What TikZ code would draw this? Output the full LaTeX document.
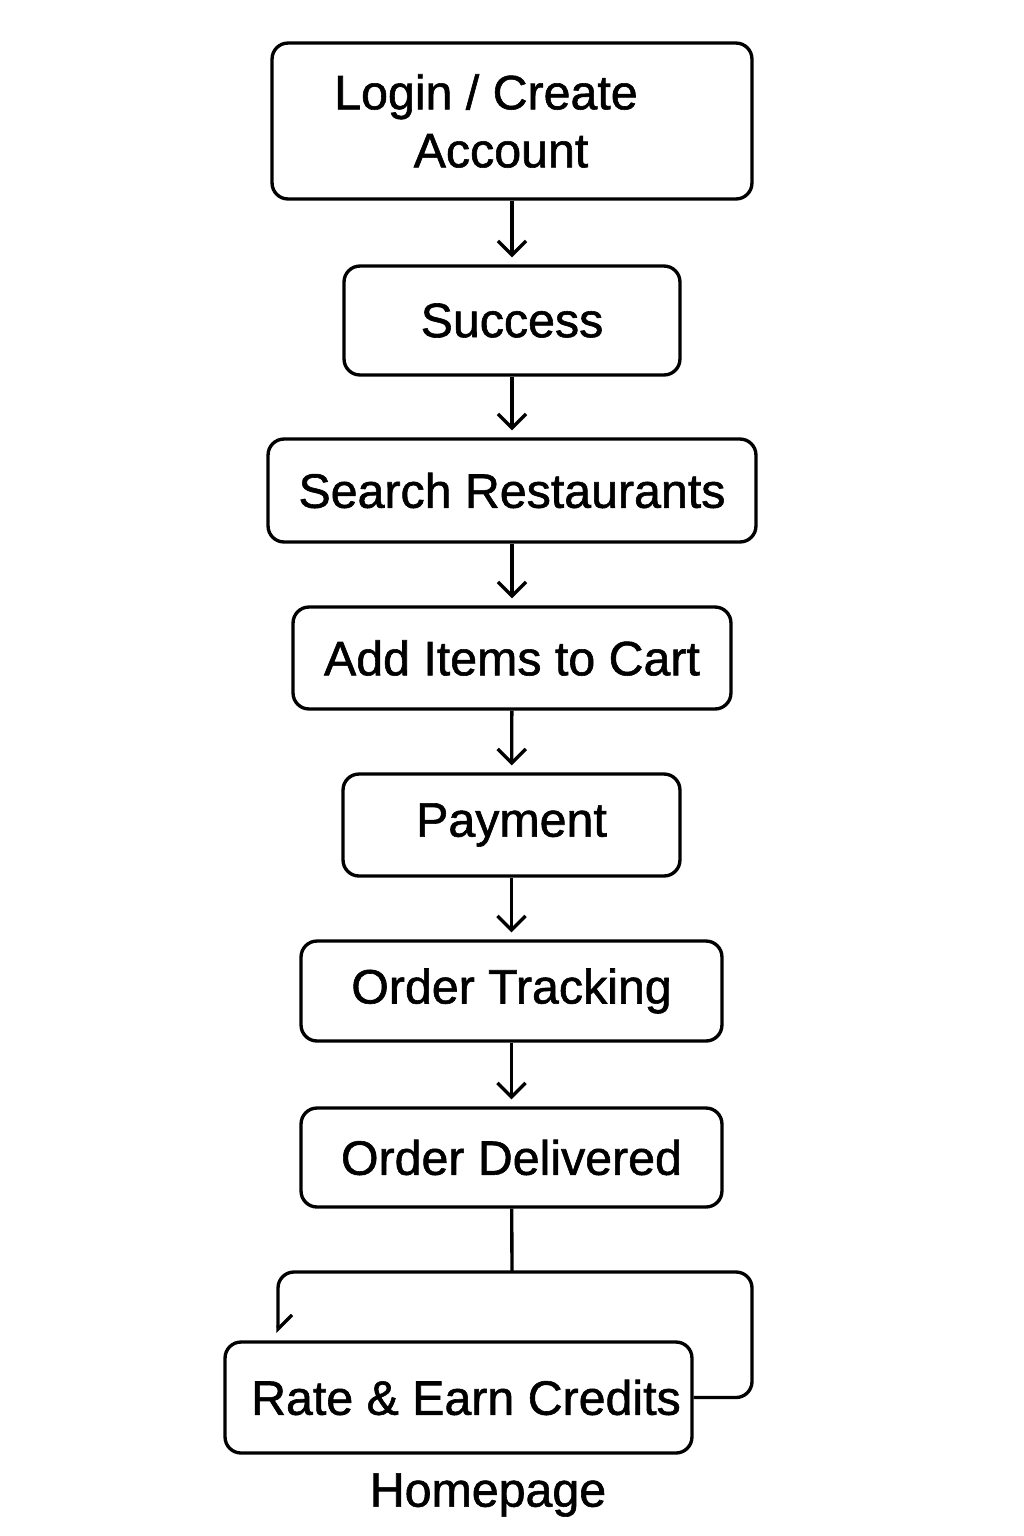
\documentclass[tikz,border=0pt]{standalone}
\usepackage{fontspec}
\setmainfont{Liberation Sans}[FakeBold=1.2]
\usetikzlibrary{arrows.meta}

\tikzset{
  box/.style={draw, line width=1.9pt, rounded corners=0.32cm, inner sep=0pt,
    align=center, font=\fontsize{27.5}{33}\selectfont},
  flow/.style={line width=1.9pt, -{Straight Barb[length=8pt,width=16pt]}, shorten >=4pt},
  link/.style={line width=1.9pt, rounded corners=0.32cm}
}

\begin{document}
\begin{tikzpicture}[x=0.02cm,y=-0.02cm]
            \useasboundingbox (0,0) rectangle (1024,1536);

            \node [box, minimum width=9.6cm, minimum height=3.12cm] (login) at (512,121) {Login / Create\hspace*{1.04cm}\\Account\hspace*{0.44cm}};
            \node [box, minimum width=6.72cm, minimum height=2.18cm] (success) at (512,320.5) {Success};
            \node [box, minimum width=9.76cm, minimum height=2.06cm] (search) at (512,490.5) {Search Restaurants};
            \node [box, minimum width=8.76cm, minimum height=2.04cm] (cart) at (512,658) {Add Items to Cart};
            \node [box, minimum width=6.74cm, minimum height=2.04cm] (payment) at (511.5,825) {Payment};
            \node [box, minimum width=8.42cm, minimum height=2.0cm] (tracking) at (511.5,991) {Order Tracking};
            \node [box, minimum width=8.42cm, minimum height=1.98cm] (delivered) at (511.5,1157.5) {Order Delivered};
            \node [box, minimum width=9.34cm, minimum height=2.22cm] (rate) at (458.5,1397.5) {\hspace*{0.3cm}Rate \& Earn Credits};
            \node [font=\fontsize{27.5}{33}\selectfont] (home) at (488,1495) {Homepage};

            \draw [flow] (login) -- (success);
            \draw [flow] (success) -- (search);
            \draw [flow] (search) -- (cart);
            \draw [flow] (cart) -- (payment);
            \draw [flow] (payment) -- (tracking);
            \draw [flow] (tracking) -- (delivered);

            % loop back to the rating box
            \coordinate (split) at (512,1272);
            \coordinate (back) at (278,1333);
            \draw [link] (delivered) -- (split);
            \draw [link] (split) -| (752,1397.5) -- (rate.east);
            \draw [link, -{Straight Barb[left,length=8pt,width=16pt]}] (split) -| (back);
        \end{tikzpicture}
\end{document}
